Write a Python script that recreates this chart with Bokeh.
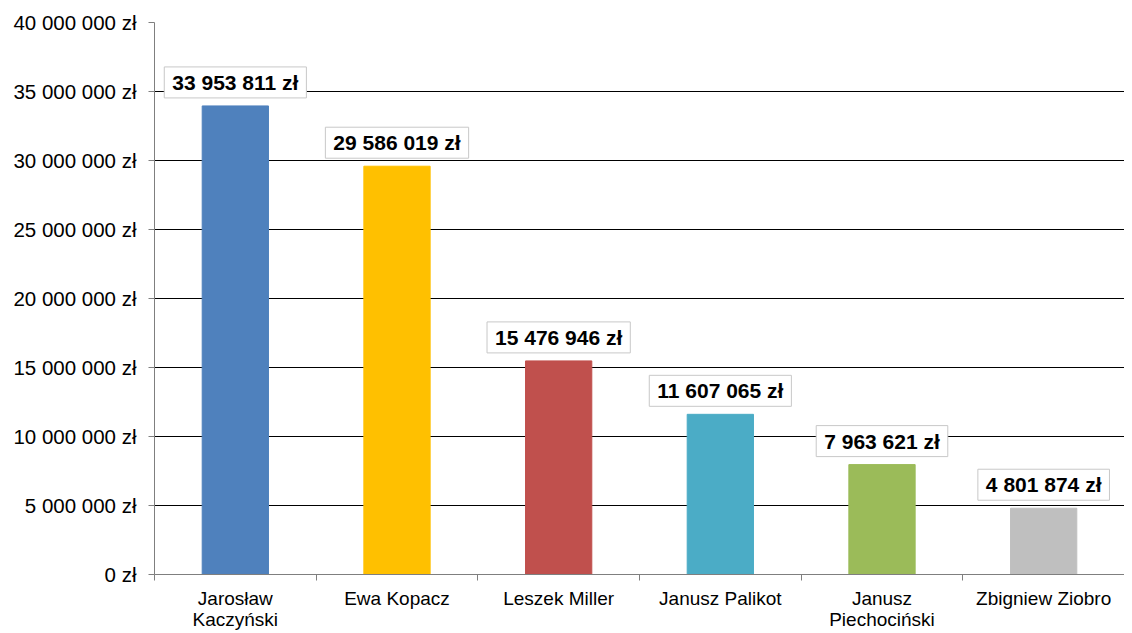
from bokeh.plotting import figure
from bokeh.models import ColumnDataSource, FixedTicker, Range1d
from bokeh.core.properties import value
from bokeh.embed import file_html
from bokeh.resources import INLINE

names = ["Jarosław\nKaczyński", "Ewa Kopacz", "Leszek Miller", "Janusz Palikot",
         "Janusz\nPiechociński", "Zbigniew Ziobro"]
values = [33953811, 29586019, 15476946, 11607065, 7963621, 4801874]
colors = ["#4F81BD", "#FFC000", "#C0504D", "#4BACC6", "#9BBB59", "#BFBFBF"]
y_ticks = [0, 5000000, 10000000, 15000000, 20000000, 25000000, 30000000, 35000000, 40000000]


def fmt(v):
    return "{:,}".format(v).replace(",", " ") + " zł"


xs = [i + 0.5 for i in range(len(names))]
src = ColumnDataSource(dict(x=xs, top=values, color=colors,
                            label=[fmt(v) for v in values]))

p = figure(frame_width=970, frame_height=552, output_backend="svg", toolbar_location=None,
           x_range=Range1d(0, len(names)), y_range=Range1d(0, 40000000))
p.min_border_left = 154
p.min_border_right = 0
p.min_border_top = 22
p.min_border_bottom = 59
p.outline_line_color = None
p.background_fill_color = "white"

p.vbar(x="x", top="top", width=0.41, color="color", source=src)

p.text(x="x", y="top", text="label", source=src, text_align="center",
       text_baseline="bottom", y_offset=-8,
       text_font=value("Liberation Sans"), text_font_style="bold",
       text_font_size="21px", text_color="black",
       background_fill_color="white", border_line_color="#C8C8C8",
       border_line_width=1, padding=(8, 4))

p.xaxis.ticker = FixedTicker(ticks=xs, minor_ticks=list(range(len(names) + 1)))
p.xaxis.major_label_overrides = {x: n for x, n in zip(xs, names)}
p.xaxis.major_tick_out = 0
p.xaxis.major_tick_in = 0
p.xaxis.minor_tick_out = 6
p.xaxis.minor_tick_in = 0
p.xaxis.minor_tick_line_color = "#7F7F7F"
p.xaxis.axis_line_color = "#7F7F7F"
p.xaxis.major_label_text_font = "Liberation Sans"
p.xaxis.major_label_text_font_size = "19px"
p.xaxis.major_label_text_color = "black"
p.xaxis.major_label_text_line_height = 1.0
p.xaxis.major_label_standoff = 7

p.yaxis.ticker = FixedTicker(ticks=y_ticks, minor_ticks=[])
p.yaxis.major_label_overrides = {t: fmt(t) for t in y_ticks}
p.yaxis.major_tick_out = 6
p.yaxis.major_tick_in = 0
p.yaxis.major_tick_line_color = "#7F7F7F"
p.yaxis.axis_line_color = "#7F7F7F"
p.yaxis.major_label_text_font = "Liberation Sans"
p.yaxis.major_label_text_font_size = "20.5px"
p.yaxis.major_label_text_color = "black"
p.yaxis.major_label_standoff = 12

p.xgrid.grid_line_color = None
p.ygrid.ticker = FixedTicker(ticks=y_ticks[1:])
p.ygrid.grid_line_color = "black"
p.ygrid.grid_line_width = 1

open("out.html", "w").write(file_html(p, INLINE))
